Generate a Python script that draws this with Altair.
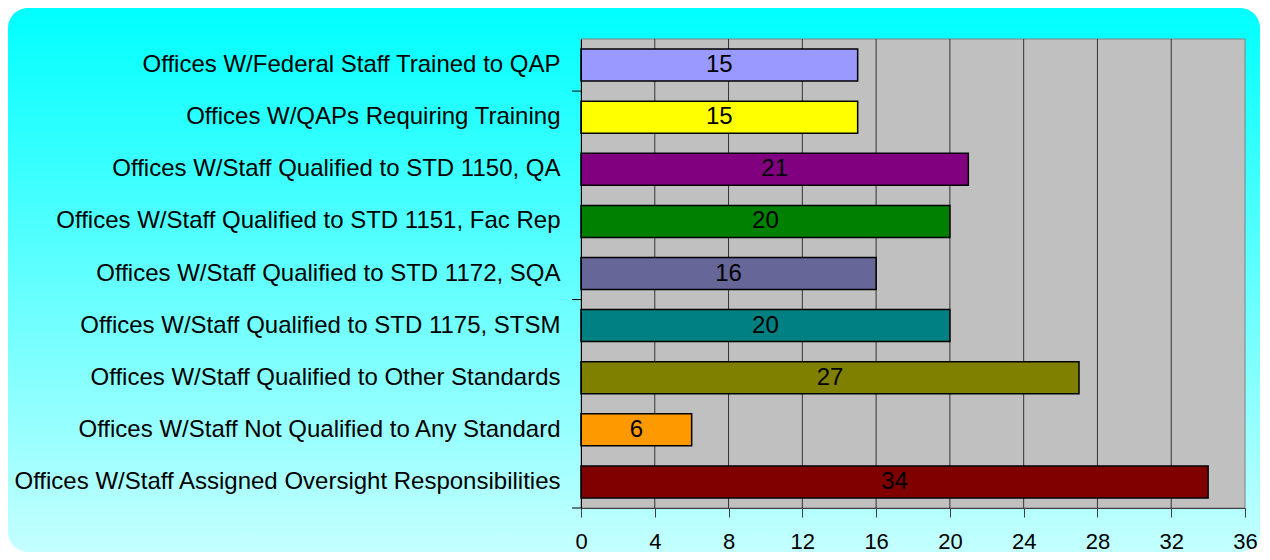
import altair as alt
import pandas as pd

categories = [
    "Offices W/Federal Staff Trained to QAP",
    "Offices W/QAPs Requiring Training\u00a0",
    "Offices W/Staff Qualified to STD 1150, QA",
    "Offices W/Staff Qualified to STD 1151, Fac Rep",
    "Offices W/Staff Qualified to STD 1172, SQA",
    "Offices W/Staff Qualified to STD 1175, STSM",
    "Offices W/Staff Qualified to Other Standards",
    "Offices W/Staff Not Qualified to Any Standard",
    "Offices W/Staff Assigned Oversight Responsibilities",
]
values = [15, 15, 21, 20, 16, 20, 27, 6, 34]
colors = ["#9999FF", "#FFFF00", "#800080", "#008000", "#666699",
          "#008080", "#808000", "#FF9900", "#800000"]
x_ticks = [0, 4, 8, 12, 16, 20, 24, 28, 32, 36]
grid_values = [4, 8, 12, 16, 20, 24, 28, 32]
ytick_top_cats = [categories[1], categories[5]]
ytick_bottom_cats = [categories[8]]

W, H = 664, 469
FONT = "Liberation Sans"

df = pd.DataFrame({"cat": categories, "value": values, "color": colors})
df["mid"] = df["value"] / 2.0

x_scale = alt.Scale(domain=[0, 36], nice=False, zero=True)
y_scale = alt.Scale(domain=categories, paddingInner=0, paddingOuter=0)

gradient = alt.Gradient(
    gradient="linear",
    stops=[alt.GradientStop(color="#00FFFF", offset=0),
           alt.GradientStop(color="#C4FFFF", offset=1)],
    x1=0, x2=0, y1=0, y2=1,
)

one = pd.DataFrame({"a": [0]})

bg = alt.Chart(one).mark_rect(fill=gradient, cornerRadius=20).encode(
    x=alt.value(-573), x2=alt.value(679), y=alt.value(-31), y2=alt.value(513)
)

plot_bg = alt.Chart(one).mark_rect(fill="#C0C0C0", stroke="#808080", strokeWidth=1).encode(
    x=alt.value(0), x2=alt.value(W), y=alt.value(0), y2=alt.value(H)
)

grid = alt.Chart(pd.DataFrame({"g": grid_values})).mark_rule(color="#333333", strokeWidth=1).encode(
    x=alt.X("g:Q", scale=x_scale, title=None),
    y=alt.value(0), y2=alt.value(H),
)

x_axis = alt.Axis(
    values=x_ticks, title=None, grid=False, tickSize=9, tickColor="#404040",
    domainColor="#404040", labelFontSize=22, labelPadding=14, labelColor="black",
    labelFont=FONT, labelFlush=False, zindex=2)
y_axis = alt.Axis(
    title=None, grid=False, ticks=False, labelPadding=21, labelFontSize=24,
    labelColor="black", labelFont=FONT, labelLimit=0, domainColor="black", zindex=2)

bars = alt.Chart(df).mark_bar(size=32, stroke="black", strokeWidth=1.5).encode(
    x=alt.X("value:Q", scale=x_scale, axis=x_axis),
    y=alt.Y("cat:N", scale=y_scale, sort=None, axis=y_axis),
    fill=alt.Fill("cat:N", scale=alt.Scale(domain=categories, range=colors), legend=None),
)

labels = alt.Chart(df).mark_text(fontSize=24, font=FONT, color="black", align="center", baseline="middle").encode(
    x=alt.X("mid:Q", scale=x_scale, axis=x_axis),
    y=alt.Y("cat:N", scale=y_scale, sort=None, axis=y_axis),
    text=alt.Text("value:Q"),
)

yticks_top = alt.Chart(pd.DataFrame({"cat": ytick_top_cats})).mark_rule(color="black").encode(
    y=alt.Y("cat:N", scale=y_scale, sort=None, axis=y_axis, bandPosition=0),
    x=alt.value(-9), x2=alt.value(0),
)
yticks_bottom = alt.Chart(pd.DataFrame({"cat": ytick_bottom_cats})).mark_rule(color="black").encode(
    y=alt.Y("cat:N", scale=y_scale, sort=None, axis=y_axis, bandPosition=1),
    x=alt.value(-9), x2=alt.value(0),
)

chart = alt.layer(bg, plot_bg, grid, bars, labels, yticks_top, yticks_bottom).properties(
    width=W, height=H,
    padding={"left": 573, "top": 31, "right": 17, "bottom": 44},
    autosize=alt.AutoSizeParams(type="none"),
).configure(
    background="white", font=FONT
).configure_view(
    stroke=None
)

chart.save("out.html", embed_options={"renderer": "svg", "actions": False})
